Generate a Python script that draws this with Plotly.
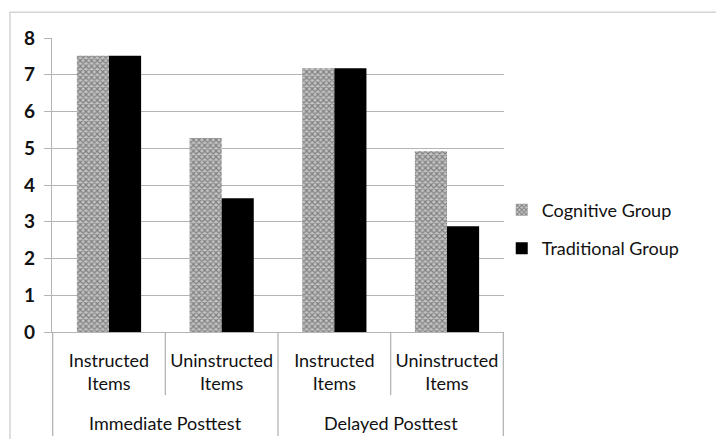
import plotly.graph_objects as go

# Mean scores by test session and item type
sessions = ["Immediate Posttest", "Delayed Posttest"]
item_types = ["Instructed<br>Items", "Uninstructed<br>Items"]
cognitive = [7.52, 5.28, 7.18, 4.92]
traditional = [7.52, 3.64, 7.18, 2.88]
y_ticks = [0, 1, 2, 3, 4, 5, 6, 7, 8]

# One category key per (session, item type) pair
keys = [f"{s}|{t}" for s in sessions for t in item_types]
tick_text = [t for s in sessions for t in item_types]

FONT = "Lato"
TEXT = "#111111"
GRID = "#b4b4b4"

fig = go.Figure()
fig.add_trace(go.Bar(
    x=keys, y=cognitive, name="Cognitive Group",
    legendgroup="cog",
    marker=dict(
        color="#bdbdbd",
        line=dict(width=0),
        pattern=dict(shape="x", size=4, solidity=0.5,
                     fgcolor="#3a3a3a", bgcolor="#c4c4c4"),
    ),
))
fig.add_trace(go.Bar(
    x=keys, y=traditional, name="Traditional Group",
    legendgroup="trad",
    marker=dict(color="#000000", line=dict(width=0)),
))

n = len(keys)
per_session = len(item_types)
shapes = []
# Category dividers below the axis: short ones between item types,
# long ones at the session boundaries and the ends
for i in range(n + 1):
    b = i - 0.5
    long_div = (i % per_session == 0)
    shapes.append(dict(
        type="line", xref="x", yref="paper",
        x0=b, x1=b, y0=0, y1=-0.354 if long_div else -0.214,
        line=dict(color=GRID, width=1.3),
    ))
# Light frame around the chart area
shapes.append(dict(
    type="rect", xref="paper", yref="paper",
    x0=-0.093, x1=1.6, y0=-0.5, y1=1.088,
    line=dict(color="#d4d4d4", width=1.5), fillcolor="rgba(0,0,0,0)",
    layer="below",
))

annotations = []
for j, s in enumerate(sessions):
    center = j * per_session + (per_session - 1) / 2
    annotations.append(dict(
        x=center, xref="x", y=-0.31, yref="paper",
        text=s, showarrow=False, yanchor="middle",
        font=dict(family=FONT, size=18, color=TEXT),
    ))

fig.update_layout(
    width=716, height=439,
    margin=dict(l=52, r=212, t=38, b=107),
    paper_bgcolor="white", plot_bgcolor="white",
    barmode="group", bargap=0.43, bargroupgap=0,
    font=dict(family=FONT, size=18, color=TEXT),
    shapes=shapes, annotations=annotations,
    legend=dict(
        x=0.995, y=0.35, xanchor="left", yanchor="middle",
        traceorder="grouped", tracegroupgap=12,
        font=dict(family=FONT, size=18, color=TEXT),
        itemwidth=30, bgcolor="rgba(0,0,0,0)",
    ),
)
fig.update_xaxes(
    type="category", tickvals=keys, ticktext=tick_text,
    showgrid=False, showline=True, linecolor=GRID, linewidth=1.3,
    ticks="", ticklabelstandoff=12,
    tickfont=dict(family=FONT, size=18, color=TEXT),
)
fig.update_yaxes(
    range=[0, 8], tickvals=y_ticks,
    showgrid=True, gridcolor=GRID, gridwidth=1.3,
    showline=True, linecolor=GRID, linewidth=1.3,
    ticks="outside", ticklen=7, tickcolor=GRID, tickwidth=1.3,
    ticklabelstandoff=5, zeroline=False,
    tickfont=dict(family=FONT, size=19, color=TEXT, weight="bold"),
)

fig.write_html("out.html")
